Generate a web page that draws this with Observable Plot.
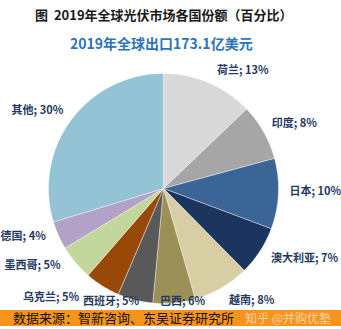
<!DOCTYPE html>
<html><head><meta charset="utf-8">
<script src="https://cdn.jsdelivr.net/npm/d3@7"></script>
<script src="https://cdn.jsdelivr.net/npm/@observablehq/plot@0.6"></script>
<style>
body{margin:0;width:341px;height:329px;background:#fff;font-family:"Noto Sans CJK SC",sans-serif;overflow:hidden;position:relative}
#title{position:absolute;left:35px;top:5px;font-size:13px;font-weight:bold;color:#1a1a1a;white-space:pre;line-height:20px}
#sub{position:absolute;left:70px;top:33px;font-size:14px;font-weight:bold;color:#2E75B6;line-height:20px;white-space:pre}
#chart{position:absolute;left:0;top:56px}
#foot{position:absolute;left:0;top:310px;width:341px;height:16px;background:#F7941D;}
#src{position:absolute;left:13px;top:0;font-size:13px;line-height:16px;color:#111;white-space:pre}
#wm{position:absolute;left:245px;top:0;font-size:12px;line-height:16px;color:rgba(255,255,255,0.6);white-space:pre}
</style></head>
<body>
<div id="title">图  2019年全球光伏市场各国份额（百分比）</div>
<div id="sub">2019年全球出口173.1亿美元</div>
<div id="chart"></div>
<div id="foot"><span id="src">数据来源：智新咨询、东吴证券研究所</span><span id="wm">知乎 @并购优塾</span></div>
<script>
// data
const countries = ["荷兰","印度","日本","澳大利亚","越南","巴西","西班牙","乌克兰","墨西哥","德国","其他"];
const shares = [13, 8, 10, 7, 8, 6, 5, 5, 5, 4, 30];
// styles / layout
const colors = ["#D9D9D9","#A6A6A6","#3B6597","#1C355E","#D8CEA3","#9C9059","#595959","#984807","#C3D69B","#B3A2C7","#93C3D5"];
const labelAngle = [33.8, 63.6, 91.1, 116.4, 141.8, 170.5, 205, 226, 239.6, 251.1, 301.8];
const labelDist = [1.24, 1.27, 1.32, 1.37, 1.24, 1.0, 1.08, 1.36, 1.32, 1.29, 1.29];

const total = d3.sum(shares);
const slices = [];
let acc = 0;
countries.forEach((c, i) => {
  const s = acc / total, e = (acc + shares[i]) / total;
  acc += shares[i];
  slices.push({name: c, x: 0, y: 0});
  const n = Math.ceil((e - s) * 360) + 1;
  for (let k = 0; k <= n; k++) {
    const t = 2 * Math.PI * (s + (e - s) * k / n);
    slices.push({name: c, x: Math.sin(t), y: Math.cos(t)});
  }
  slices.push({name: c, x: 0, y: 0});
});
const labels = countries.map((c, i) => {
  const a = labelAngle[i] * Math.PI / 180;
  return {text: `${c}; ${shares[i]}%`, x: labelDist[i] * Math.sin(a), y: labelDist[i] * Math.cos(a)};
});

const cx = 163, cy = 132, r = 115;
const chart = Plot.plot({
  width: 341, height: 254,
  margin: 0,
  x: {domain: [-1, 1], range: [cx - r, cx + r], axis: null},
  y: {domain: [-1, 1], range: [cy + r, cy - r], axis: null},
  color: {domain: countries, range: colors},
  style: {fontFamily: "'Noto Sans CJK SC', sans-serif", background: "transparent"},
  marks: [
    Plot.line(slices, {x: "x", y: "y", z: "name", fill: "name", stroke: "white", strokeWidth: 0.4, curve: "linear"}),
    Plot.text(labels, {x: "x", y: "y", text: "text", fill: "#1F3864", fontSize: 11, fontWeight: "bold", textAnchor: "middle"})
  ]
});
document.getElementById("chart").appendChild(chart);
</script>
</body></html>
